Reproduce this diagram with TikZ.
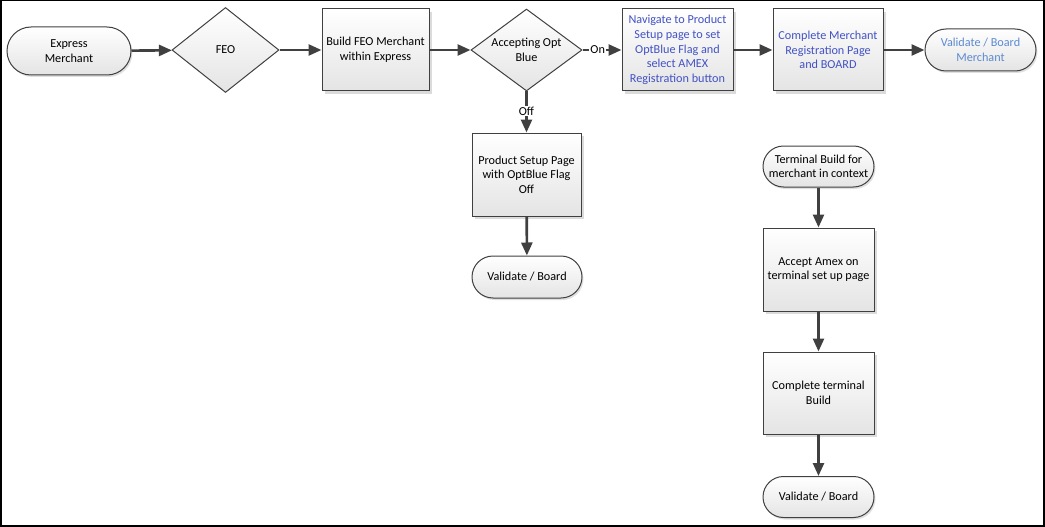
\documentclass[tikz,border=0pt]{standalone}
\usepackage{fontspec}
\setmainfont{Carlito}
\usetikzlibrary{shapes.geometric,shapes.misc,arrows.meta,shadows}
\definecolor{edge}{RGB}{64,64,64}
\definecolor{boxgray}{RGB}{228,228,228}
\definecolor{inkA}{RGB}{66,82,196}
\definecolor{inkB}{RGB}{92,138,208}
\begin{document}
\begin{tikzpicture}[x=1pt,y=-1pt,
  font=\fontsize{12.2}{14.6}\selectfont,
  base/.style={draw=edge, line width=1pt, top color=white, bottom color=boxgray, inner sep=0pt, align=center},
  procbox/.style={base, rectangle, drop shadow={shadow xshift=3pt, shadow yshift=-3pt, fill=black!14, opacity=1}},
  termbox/.style={base, rounded rectangle, drop shadow={shadow xshift=1.5pt, shadow yshift=-2pt, fill=black!12, opacity=1}},
  decbox/.style={base, diamond},
  txt/.style={inner sep=0pt, align=center},
  conn/.style={draw=edge, line width=2.6pt, -{Triangle[length=13pt, width=11pt]}},
  lbl/.style={fill=white, inner sep=1pt, text=black}
]
\useasboundingbox (0,0) rectangle (1045,527);
\draw[line width=1.5pt] (0.75,0.75) rectangle (1044,526);

% top row
\node[termbox, minimum width=124pt, minimum height=48pt] (em) at (69,51) {Express\\Merchant};
\node[decbox, minimum width=107pt, minimum height=85pt] (feo) at (225.5,50) {};
\node[txt] (feoT) at (feo) {FEO};
\node[procbox, minimum width=107pt, minimum height=82pt] (build) at (375.5,50) {Build FEO Merchant\\within Express};
\node[decbox, minimum width=111pt, minimum height=82pt] (acc) at (526.5,50) {};
\node[txt] (accT) at (acc) {Accepting Opt\\Blue};
\node[procbox, minimum width=111pt, minimum height=82pt, text=inkA] (nav) at (677.5,50) {Navigate to Product\\Setup page to set\\OptBlue Flag and\\select AMEX\\Registration button};
\node[procbox, minimum width=110pt, minimum height=82pt, text=inkA] (cmr) at (828,50) {Complete Merchant\\Registration Page\\and BOARD};
\node[termbox, minimum width=111pt, minimum height=42pt, text=inkB] (vbm) at (980.5,50) {Validate / Board\\Merchant};

% off branch
\node[procbox, minimum width=109pt, minimum height=83pt] (psp) at (526.5,174.5) {Product Setup Page\\with OptBlue Flag\\Off};
\node[termbox, minimum width=110pt, minimum height=42pt] (vb1) at (527,277) {Validate / Board};

% terminal column
\node[termbox, minimum width=111pt, minimum height=41pt] (tb) at (818.5,166.5) {Terminal Build for\\merchant in context};
\node[procbox, minimum width=111pt, minimum height=83pt] (aa) at (818.5,269.5) {Accept Amex on\\terminal set up page};
\node[procbox, minimum width=111pt, minimum height=82pt] (ct) at (818.5,393) {Complete terminal\\Build};
\node[termbox, minimum width=111pt, minimum height=41pt] (vb2) at (818.5,497) {Validate / Board};

% connectors
\draw[conn] (em) -- (feo);
\draw[conn] (feo) -- (build);
\draw[conn] (build) -- (acc);
\draw[conn] (acc.east) -- (nav.west) node[lbl, pos=0.39] (onL) {On};
\draw[conn] (acc.south) -- (psp.north) node[lbl, pos=0.48] (offL) {Off};
\draw[conn] (nav) -- (cmr);
\draw[conn] (cmr) -- (vbm);
\draw[conn] (psp) -- (vb1);
\draw[conn] (tb) -- (aa);
\draw[conn] (aa) -- (ct);
\draw[conn] (ct) -- (vb2);
\end{tikzpicture}
\end{document}
